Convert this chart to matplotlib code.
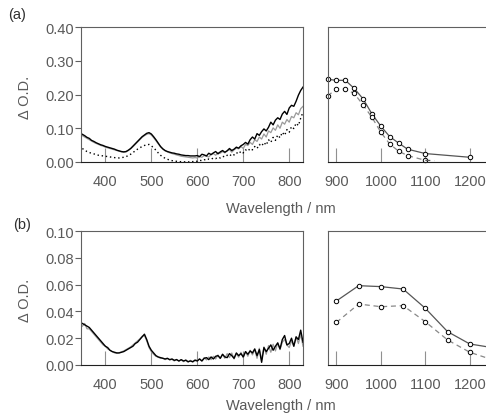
import numpy as np
import matplotlib
matplotlib.use("Agg")
import matplotlib.pyplot as plt

# ---------------- data ----------------
wl = list(range(350, 835, 5))

a_black = [.082, .078, .073, .070, .064, .061, .057, .054, .051, .049,
           .046, .044, .042, .040, .038, .035, .033, .031, .030, .031,
           .035, .040, .047, .054, .061, .068, .075, .080, .085, .087,
           .083, .075, .066, .056, .046, .039, .034, .031, .029, .027,
           .026, .024, .023, .021, .020, .019, .019, .018, .018, .018,
           .019, .016, .023, .021, .018, .026, .022, .027, .031, .024,
           .030, .034, .029, .033, .040, .034, .038, .044, .041, .048,
           .052, .058, .053, .066, .074, .068, .084, .079, .090, .098,
           .092, .103, .118, .110, .124, .131, .126, .142, .150, .141,
           .160, .168, .165, .180, .198, .212, .222]

a_grey = [.078, .074, .070, .066, .062, .058, .055, .052, .049, .047,
          .044, .042, .040, .038, .036, .034, .032, .030, .029, .030,
          .034, .039, .045, .052, .059, .066, .073, .078, .082, .084,
          .080, .072, .063, .054, .045, .038, .033, .030, .027, .025,
          .023, .021, .019, .017, .016, .015, .014, .013, .012, .013,
          .012, .016, .014, .019, .017, .015, .022, .025, .020, .028,
          .026, .031, .027, .034, .037, .029, .036, .041, .039, .046,
          .040, .052, .049, .058, .052, .066, .061, .074, .068, .083,
          .074, .092, .087, .101, .094, .110, .100, .118, .112, .126,
          .118, .135, .131, .146, .140, .158, .165]

a_dotted = [.040, .035, .031, .028, .026, .024, .022, .020, .019, .018,
            .017, .016, .015, .014, .013, .012, .012, .013, .014, .016,
            .019, .023, .028, .033, .038, .042, .046, .049, .051, .052,
            .048, .042, .035, .027, .020, .015, .011, .008, .006, .004,
            .003, .002, .001, .001, .000, .001, .000, .002, .001, .003,
            .002, .005, .004, .007, .005, .009, .008, .012, .010, .014,
            .012, .017, .015, .020, .017, .024, .021, .028, .024, .032,
            .027, .036, .032, .040, .036, .046, .040, .052, .047, .058,
            .050, .066, .058, .073, .064, .080, .072, .088, .079, .096,
            .088, .105, .099, .115, .108, .130, .148]

b_black = [.031, .030, .029, .028, .026, .024, .022, .020, .018, .016,
           .014, .013, .011, .010, .0095, .009, .009, .0095, .010, .011,
           .012, .013, .014, .016, .017, .019, .021, .023, .019, .014,
           .011, .009, .007, .006, .0055, .005, .0045, .005, .004, .0045,
           .0035, .004, .003, .004, .003, .0035, .0025, .003, .0025, .0035,
           .003, .0045, .003, .005, .0055, .004, .006, .0045, .0065, .007,
           .005, .008, .006, .0055, .0085, .007, .005, .009, .007, .0085,
           .006, .010, .008, .0105, .009, .012, .007, .0115, .002, .013,
           .010, .0125, .015, .011, .014, .0165, .012, .019, .022, .015,
           .016, .020, .014, .021, .019, .026, .017]

b_grey = [.029, .031, .027, .027, .025, .023, .021, .019, .017, .015,
          .014, .012, .011, .010, .009, .0088, .0092, .0098, .0105, .0115,
          .0125, .0135, .015, .0165, .018, .0195, .0215, .022, .018, .013,
          .010, .008, .0065, .0058, .005, .0052, .004, .0048, .0038, .0042,
          .003, .0042, .0028, .0038, .0025, .004, .002, .0035, .002, .004,
          .0035, .0045, .003, .0055, .0038, .006, .004, .0065, .0045, .0075,
          .0048, .008, .005, .0085, .0055, .009, .0045, .0085, .0058, .0095,
          .0055, .010, .0065, .011, .0075, .0115, .005, .0125, .004, .0135,
          .008, .0145, .0095, .0155, .0105, .0165, .0115, .017, .019, .015,
          .013, .018, .014, .021, .016, .023, .014]

nir_a_wl = [880, 900, 920, 940, 960, 980, 1000, 1020, 1040, 1060, 1100, 1200]
nir_a_solid = [0.245, 0.242, 0.242, 0.218, 0.187, 0.142, 0.106, 0.075, 0.056, 0.038, 0.025, 0.014]
nir_a_dash_wl = [880, 900, 920, 940, 960, 980, 1000, 1020, 1040, 1060, 1100, 1120]
nir_a_dash = [0.196, 0.216, 0.216, 0.203, 0.169, 0.132, 0.088, 0.053, 0.032, 0.019, 0.005, 0.004]

nir_b_wl = [900, 950, 1000, 1050, 1100, 1150, 1200, 1250]
nir_b_solid = [0.0478, 0.0592, 0.0585, 0.0567, 0.0423, 0.0249, 0.0157, 0.0130]
nir_b_dash = [0.0318, 0.0455, 0.0435, 0.0443, 0.0323, 0.0187, 0.0095, 0.0040]

vis_xticks = [400, 500, 600, 700, 800]
nir_xticks = [900, 1000, 1100, 1200]
a_yticks = [0.00, 0.10, 0.20, 0.30, 0.40]
b_yticks = [0.00, 0.02, 0.04, 0.06, 0.08, 0.10]

# ---------------- figure ----------------
W, H = 486, 414
fig = plt.figure(figsize=(W / 100, H / 100), dpi=100)
plt.rcParams['font.family'] = ['Liberation Sans', 'DejaVu Sans']
TXT = '#5a5a5a'
SP = '#606060'


def px_axes(x0, x1, ytop, ybot):
    return fig.add_axes([x0 / W, 1 - ybot / H, (x1 - x0) / W, (ybot - ytop) / H])


def style(ax, ylabels=True):
    for s in ax.spines.values():
        s.set_color(SP)
        s.set_linewidth(0.8)
    ax.spines['bottom'].set_color('#202020')
    ax.tick_params(axis='x', direction='in', length=10, width=0.8, color='#909090',
                   labelsize=10.5, labelcolor=TXT, pad=9, top=False)
    if ylabels:
        ax.tick_params(axis='y', direction='out', length=4, width=0.8, color=SP,
                       labelsize=10.5, labelcolor=TXT, pad=1, right=False)
    else:
        ax.tick_params(axis='y', left=False, labelleft=False, right=False)


mk = dict(marker='o', ms=3.2, mfc='white', mec='black', mew=0.7)

# (a) visible
ax1 = px_axes(81, 303, 28, 163)
ax1.plot(wl, a_grey, color='#9a9a9a', lw=0.9)
ax1.plot(wl, a_black, color='black', lw=1.0)
ax1.plot(wl, a_dotted, color='black', lw=1.0, ls=(0, (1, 2)))
ax1.set_xlim(347, 830)
ax1.set_ylim(0, 0.40)
ax1.set_xticks(vis_xticks)
ax1.set_yticks(a_yticks)
ax1.set_yticklabels([f"{v:.2f}" for v in a_yticks])
style(ax1)

# (a) NIR
ax2 = px_axes(328, 492, 28, 163)
ax2.plot(nir_a_wl, nir_a_solid, color='#555555', lw=0.9, clip_on=False, **mk)
ax2.plot(nir_a_dash_wl[:-1], nir_a_dash[:-1], color='#888888', lw=0.9, ls=(0, (4, 3)),
         clip_on=False, **mk)
ax2.plot(nir_a_dash_wl[-2:], nir_a_dash[-2:], color='#555555', lw=0.9, ls=(0, (4, 3)))
ax2.set_xlim(881, 1250)
ax2.set_ylim(0, 0.40)
ax2.set_xticks(nir_xticks)
style(ax2, ylabels=False)

# (b) visible
ax3 = px_axes(81, 303, 232, 366)
ax3.plot(wl, b_grey, color='#9a9a9a', lw=0.9)
ax3.plot(wl, b_black, color='black', lw=1.0)
ax3.set_xlim(347, 830)
ax3.set_ylim(0, 0.10)
ax3.set_xticks(vis_xticks)
ax3.set_yticks(b_yticks)
ax3.set_yticklabels([f"{v:.2f}" for v in b_yticks])
style(ax3)

# (b) NIR
ax4 = px_axes(328, 492, 232, 366)
ax4.plot(nir_b_wl, nir_b_solid, color='#555555', lw=0.9, **mk)
ax4.plot(nir_b_wl, nir_b_dash, color='#888888', lw=0.9, ls=(0, (4, 3)), **mk)
ax4.set_xlim(881, 1250)
ax4.set_ylim(0, 0.10)
ax4.set_xticks(nir_xticks)
style(ax4, ylabels=False)

# labels
for yc in (97, 300):
    fig.text(25 / W, 1 - yc / H, 'Δ O.D.', rotation=90, ha='center', va='center',
             fontsize=10.5, color=TXT)
for yc in (209, 406):
    fig.text(281 / W, 1 - yc / H, 'Wavelength / nm', ha='center', va='center',
             fontsize=10.5, color=TXT)
fig.text(8 / W, 1 - 15 / H, '(a)', ha='left', va='center', fontsize=10.5, color='#303030')
fig.text(13 / W, 1 - 225 / H, '(b)', ha='left', va='center', fontsize=10.5, color='#303030')

fig.savefig('out.png', dpi=100)
